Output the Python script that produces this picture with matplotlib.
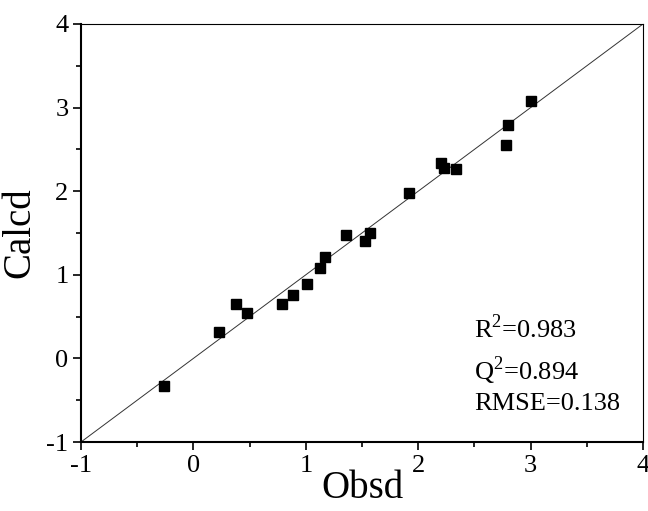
import matplotlib
matplotlib.use('Agg')
import matplotlib.pyplot as plt
from matplotlib.ticker import MultipleLocator

plt.rcParams['font.family'] = ['Liberation Serif', 'DejaVu Serif']
plt.rcParams['mathtext.fontset'] = 'custom'
plt.rcParams['mathtext.rm'] = 'Liberation Serif'
plt.rcParams['axes.unicode_minus'] = False

# observed vs calculated activity
obsd = [-0.26, 0.23, 0.38, 0.48, 0.79, 0.89, 1.01, 1.13, 1.17, 1.36,
        1.53, 1.57, 1.92, 2.20, 2.23, 2.34, 2.78, 2.80, 3.00]
calcd = [-0.33, 0.32, 0.65, 0.54, 0.65, 0.76, 0.89, 1.08, 1.21, 1.48,
         1.41, 1.50, 1.98, 2.34, 2.28, 2.27, 2.55, 2.79, 3.08]

stats = ['R$^2$=0.983', 'Q$^2$=0.894', 'RMSE=0.138']

W, H = 648, 511
fig = plt.figure(figsize=(W / 100, H / 100), dpi=100)
ax = fig.add_axes([81 / W, 1 - 442 / H, (643 - 81) / W, (442 - 24) / H])

ax.plot([-1, 4], [-1, 4], color='#333333', lw=0.7, zorder=1)
ax.plot(obsd, calcd, 's', color='black', ms=6.8, mec='black', zorder=2)

ax.set_xlim(-1, 4)
ax.set_ylim(-1, 4)
ax.xaxis.set_major_locator(MultipleLocator(1))
ax.yaxis.set_major_locator(MultipleLocator(1))
ax.xaxis.set_minor_locator(MultipleLocator(0.5))
ax.yaxis.set_minor_locator(MultipleLocator(0.5))
ax.tick_params(which='both', direction='out', top=False, right=False, width=1.2)
ax.tick_params(which='major', length=6, labelsize=19, pad=3)
ax.tick_params(which='minor', length=3.5)

for side in ['left', 'bottom']:
    ax.spines[side].set_linewidth(1.5)
for side in ['top', 'right']:
    ax.spines[side].set_linewidth(0.8)

ax.set_xlabel('Obsd', fontsize=28, va='center')
ax.set_ylabel('Calcd', fontsize=28, va='center')
ax.xaxis.set_label_coords(0.5, -0.112)
ax.yaxis.set_label_coords(-0.108, 0.5)

# fit statistics, one line each
for txt, yb in zip(stats, [338, 380, 410]):
    ax.text((474 - 81) / 562, (442 - yb) / 418, txt, transform=ax.transAxes,
            fontsize=19, ha='left', va='baseline')

fig.savefig('out.png', dpi=100)
